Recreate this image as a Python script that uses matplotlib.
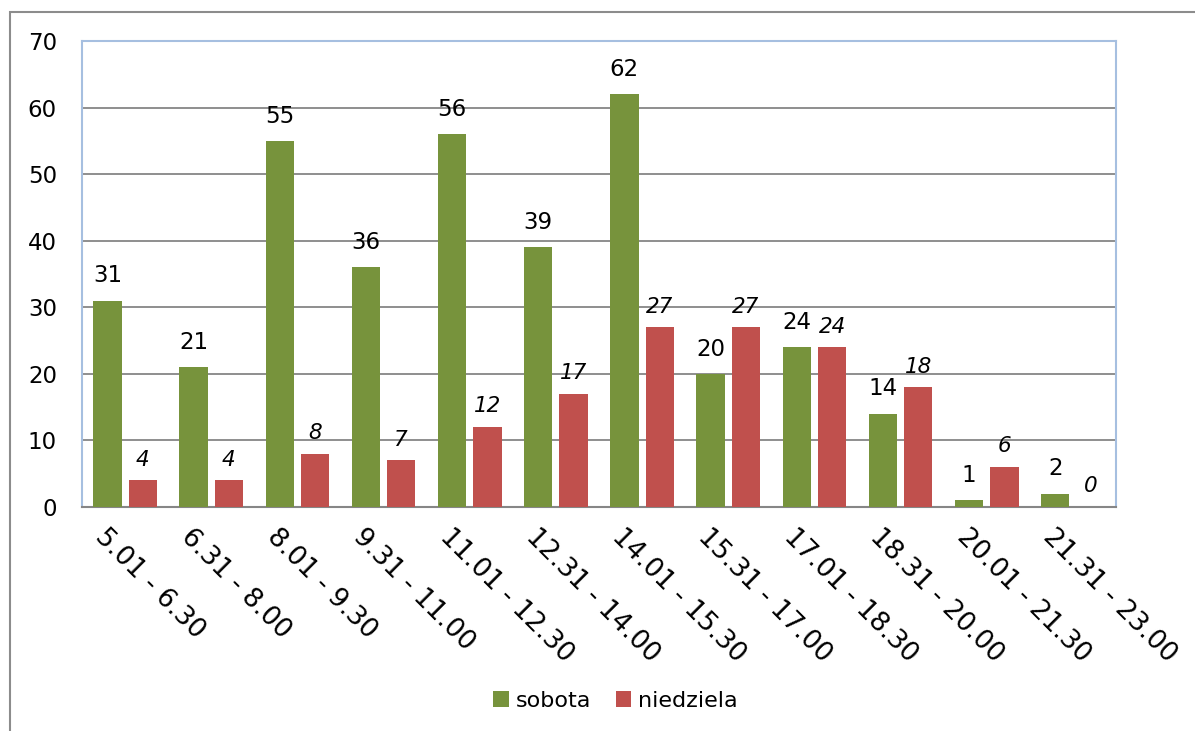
import matplotlib
matplotlib.use("Agg")
import matplotlib.pyplot as plt
import matplotlib.transforms as mtransforms
from matplotlib.patches import Rectangle
import numpy as np

# data
categories = ["5.01 - 6.30", "6.31 - 8.00", "8.01 - 9.30", "9.31 - 11.00",
              "11.01 - 12.30", "12.31 - 14.00", "14.01 - 15.30", "15.31 - 17.00",
              "17.01 - 18.30", "18.31 - 20.00", "20.01 - 21.30", "21.31 - 23.00"]
sobota = [31, 21, 55, 36, 56, 39, 62, 20, 24, 14, 1, 2]
niedziela = [4, 4, 8, 7, 12, 17, 27, 27, 24, 18, 6, 0]

GREEN = "#77933C"
RED = "#C0504D"

plt.rcParams['font.family'] = ['DejaVu Sans']

fig = plt.figure(figsize=(11.95, 7.31), dpi=100)
# outer chart frame (cut by the image on the right and bottom)
fig.patches.append(Rectangle((10 / 1195, -0.1), 1.2, 1 - 12 / 731 + 0.1,
                             transform=fig.transFigure, fill=False,
                             edgecolor="#8c8c8c", linewidth=1.5))

ax = fig.add_axes([82 / 1195, 1 - 507 / 731, (1116 - 82) / 1195, (507 - 41) / 731])

x = np.arange(len(categories))
w = 0.33
ax.bar(x - 0.205, sobota, w, color=GREEN, label="sobota", zorder=3)
ax.bar(x + 0.205, niedziela, w, color=RED, label="niedziela", zorder=3)

for xi, v in zip(x, sobota):
    ax.text(xi - 0.205, v + 2.0, str(v), ha="center", va="bottom", fontsize=16.5)
for xi, v in zip(x, niedziela):
    ax.text(xi + 0.205, v + 1.6, str(v), ha="center", va="bottom", fontsize=15.5,
            style="italic")

ax.set_xlim(-0.5, len(categories) - 0.5)
ax.set_ylim(0, 70)
ax.set_yticks(range(0, 71, 10))
ax.yaxis.grid(True, color="#868686", linewidth=1.3, zorder=0)
ax.tick_params(axis="y", length=0, labelsize=16.5, pad=18)
ax.tick_params(axis="x", length=0)

ax.set_xticks(x)
ax.set_xticklabels(categories, rotation=-45, ha="left", va="top",
                   rotation_mode="anchor", fontsize=19)
offset = mtransforms.ScaledTranslation(-0.17, -0.12, fig.dpi_scale_trans)
for lbl in ax.get_xticklabels():
    lbl.set_transform(lbl.get_transform() + offset)

for side in ["left", "top", "right"]:
    ax.spines[side].set_color("#a6bfe0")
    ax.spines[side].set_linewidth(1.5)
ax.spines["bottom"].set_color("#868686")
ax.spines["bottom"].set_linewidth(1.5)

fig.legend(loc="lower center", bbox_to_anchor=(0.515, 0.0), ncol=2,
           frameon=False, fontsize=16, handlelength=0.7, handleheight=0.7,
           handletextpad=0.3, columnspacing=1.1)

fig.savefig("out.png", dpi=100)
